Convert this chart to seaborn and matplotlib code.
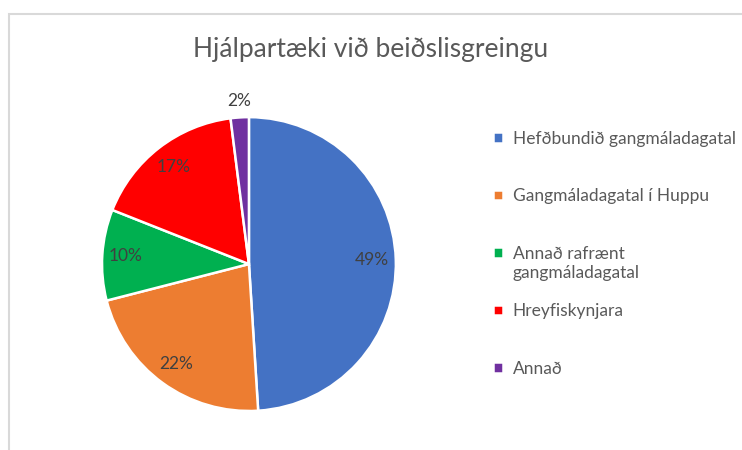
import matplotlib
matplotlib.use("Agg")
import matplotlib.pyplot as plt
import seaborn as sns
from matplotlib.patches import Rectangle
from matplotlib.text import Annotation

# data
categories = [
    "Hefðbundið gangmáladagatal",
    "Gangmáladagatal í Huppu",
    "Annað rafrænt",
    "Hreyfiskynjara",
    "Annað",
]
wrap_line = "gangmáladagatal"  # second line of the 3rd legend entry
shares = [49, 22, 10, 17, 2]
colors = ["#4472C4", "#ED7D31", "#00B050", "#FF0000", "#7030A0"]
title = "Hjálpartæki við beiðslisgreingu"

sns.set_theme(style="white")
plt.rcParams["font.family"] = ["Lato", "DejaVu Sans"]

fig = plt.figure(figsize=(7.42, 4.5), dpi=100)
ax = fig.add_axes([0.1375, 0.0867, 0.396, 0.653])

wedges, texts, autotexts = ax.pie(
    shares,
    colors=sns.color_palette(colors),
    startangle=90,
    counterclock=False,
    autopct="%1.0f%%",
    pctdistance=0.84,
    wedgeprops=dict(edgecolor="white", linewidth=1.8),
    textprops=dict(color="#404040", fontsize=12.5),
)
# small slice gets its label outside the pie, like Excel's best fit
px, py = autotexts[-1].get_position()
autotexts[-1].set_position((px * 1.32, py * 1.32))
ax.set_xlim(-1, 1)
ax.set_ylim(-1, 1)
ax.set_aspect("equal")

fig.suptitle(title, x=0.5, y=0.918, fontsize=19, color="#595959")

leg = fig.legend(
    wedges, categories,
    loc="upper left", bbox_to_anchor=(0.644, 0.744),
    frameon=False, fontsize=12.5, labelcolor="#595959",
    handlelength=0.55, handleheight=0.55, handletextpad=0.55,
    labelspacing=2.39,
)
ann = Annotation(wrap_line, xy=(0, 0), xycoords=leg.get_texts()[2],
                 xytext=(0, -2), textcoords="offset points",
                 va="top", ha="left", fontsize=12.5, color="#595959")
ann.set_zorder(10)
fig.add_artist(ann)

# chart-area frame (only top and left edges are inside the crop)
fig.patches.append(Rectangle((9 / 742, -0.1), 1.2, 1.1 - 14 / 450,
                             transform=fig.transFigure, fill=False,
                             edgecolor="#D9D9D9", linewidth=1.5))

fig.savefig("out.png", dpi=100)
